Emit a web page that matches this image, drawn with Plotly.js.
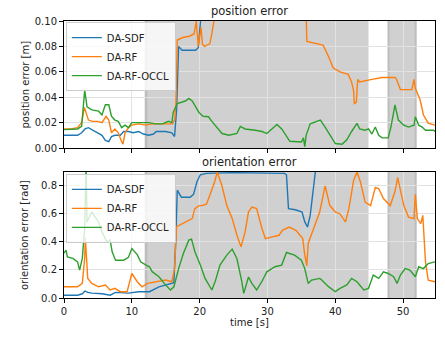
<!DOCTYPE html>
<html>
<head>
<meta charset="utf-8">
<script src="https://cdn.plot.ly/plotly-3.0.1.min.js"></script>
<style>
  html, body { margin: 0; padding: 0; background: #fff; }
  #viz { width: 445px; height: 337px; }
</style>
</head>
<body>
<div id="viz"></div>
<script>
// position error [m]
var sdfPosT = [0,1,2,2.6,3.1,3.6,4.6,5.6,6.1,6.6, 7.0,7.5,8.3,8.8,9.5,10.2,11.0,11.7,12.5,13.2, 13.6,15.0,15.9,16.3,16.6,16.9,17.4,18.5,19.4,19.8, 20.3,20.6];
var sdfPos = [0.010,0.010,0.010,0.012,0.015,0.016,0.013,0.010,0.006,0.005, 0.009,0.010,0.010,0.013,0.013,0.012,0.013,0.011,0.010,0.011, 0.013,0.013,0.012,0.009,0.03,0.08,0.077,0.077,0.077,0.079, 0.1,0.13];

var rfPosT = [0,1,2,2.6,3.0,3.2,3.6,4.2,5.0,5.6, 6.2,6.6,7.0,7.5,8.0,8.5,8.7,9.0,9.5,10, 11,12,13,14,15,16,16.3,16.5,16.7,17.5, 18.5,19.2,19.5,19.8,20.2,20.4,20.7,21.5,21.8,22.1, 22.4,35.6,35.8,36.5,37.5,38.2,39,39.7,40.7,41.9, 42.4,42.7,42.8,43.1,43.3,43.6,45.4,46.9,48.8,49.0, 49.6,51.3,51.6,51.8,52.5,53.0,53.7,54.7];
var rfPos = [0.015,0.015,0.016,0.02,0.032,0.028,0.022,0.021,0.021,0.02, 0.025,0.022,0.012,0.015,0.012,0.005,0.003,0.012,0.016,0.018, 0.019,0.018,0.019,0.019,0.019,0.019,0.022,0.035,0.085,0.087, 0.088,0.09,0.1,0.08,0.095,0.082,0.08,0.082,0.09,0.1, 0.13,0.13,0.084,0.083,0.082,0.081,0.072,0.063,0.060,0.058, 0.052,0.045,0.035,0.036,0.054,0.052,0.054,0.0555,0.0555,0.0545, 0.046,0.046,0.054,0.047,0.038,0.026,0.0196,0.018];

var occlPosT = [0,1,2,2.6,3.05,3.4,4.1,5.1,5.6,6.1, 6.6,7.0,7.5,8.0,8.5,9.0,9.5,10,11.5,12.5, 13.5,14.5,15.4,15.9,16.1,16.7,17.9,18.4,18.9,19.4, 19.9,20.5,21.3,21.8,23.3,24.3,25.5,26.0,26.7,28.2, 29.2,29.9,30.6,31.4,32.1,33.3,35.0,35.3,35.5,35.7, 36.3,37.8,38.5,39.2,40,41,41.7,42.4,43.2,43.6, 44.4,44.9,45.4,45.9,46.4,46.9,47.8,48.2,48.8,49.3, 50.1,50.8,51.6,51.8,52.3,52.8,53.3,54.5,54.7];
var occlPos = [0.0145,0.0145,0.015,0.017,0.0455,0.0325,0.030,0.029,0.026,0.034, 0.034,0.025,0.022,0.021,0.016,0.018,0.016,0.020,0.020,0.020, 0.019,0.019,0.021,0.020,0.028,0.035,0.037,0.039,0.037,0.032, 0.028,0.025,0.0246,0.021,0.0114,0.010,0.0115,0.017,0.015,0.014, 0.013,0.0114,0.015,0.0186,0.015,0.0053,0.0047,0.008,0.001,0.01, 0.019,0.022,0.0165,0.010,0.0035,0.003,0.0065,0.013,0.0194,0.015, 0.014,0.015,0.011,0.0165,0.010,0.008,0.008,0.0165,0.034,0.022, 0.018,0.0165,0.018,0.0246,0.018,0.0165,0.014,0.014,0.013];

// orientation error [rad]
var sdfOriT = [0,1,2,2.7,3.1,3.5,4.1,5.6,6.8,7.6, 9.5,11,12.6,14,15.5,16.2,16.5,16.7,17.3,18.6, 19.1,19.6,20.1,21,25,30,32.5,32.8,33.1,34.1, 35.1,35.5,35.9,36.3,36.8,37.1,37.3];
var sdfOri = [0.02,0.02,0.02,0.03,0.05,0.04,0.035,0.03,0.02,0.04, 0.035,0.045,0.045,0.08,0.10,0.11,0.44,0.77,0.72,0.72, 0.74,0.83,0.88,0.89,0.895,0.89,0.89,0.88,0.638,0.63, 0.614,0.543,0.507,0.59,0.83,0.92,1.0];

var rfOriT = [0,1,2,2.7,3.05,3.15,3.5,4.1,5.1,6.1, 6.8,7.5,8.3,9.3,10.0,10.8,11.5,12.3,13.5,15.0, 15.9,16.3,16.6,17.9,18.9,19.3,19.9,20.3,21.0,21.5, 22.2,22.6,23.3,24.0,24.8,25.5,26.1,26.7,27.2,27.7, 28.4,29.2,29.7,30.7,31.7,32.2,33.2,34.2,35.2,35.5, 35.8,36.0,36.8,37.7,38.5,39.2,40.0,40.7,41.5,42.0, 42.7,43.2,43.7,44.4,45.2,45.9,46.4,47.1,48.1,48.8, 49.2,49.6,50.1,50.8,51.6,51.8,52.1,52.6,52.9,53.3, 53.7,54.7];
var rfOri = [0.08,0.08,0.08,0.104,0.283,0.43,0.14,0.104,0.08,0.093, 0.057,0.069,0.045,0.045,0.175,0.116,0.08,0.104,0.116,0.128, 0.116,0.21,0.51,0.543,0.567,0.638,0.66,0.66,0.67,0.733, 0.828,0.9,0.8,0.66,0.567,0.448,0.365,0.472,0.614,0.65, 0.638,0.495,0.424,0.436,0.448,0.483,0.507,0.483,0.424,0.306, 0.23,0.39,0.495,0.614,0.80,0.66,0.614,0.60,0.543,0.638, 0.84,0.9,0.83,0.685,0.66,0.79,0.78,0.71,0.66,0.76, 0.86,0.76,0.66,0.578,0.567,0.74,0.567,0.531,0.59,0.258, 0.128,0.116];

var occlOriT = [0,0.3,0.5,1.3,2.0,2.3,2.7,3.05,3.25,3.4, 4.1,5.1,5.6,6.3,6.8,7.1,7.6,8.8,9.5,10.0, 10.8,11.3,12.1,12.6,13.0,14.0,15.0,15.7,16.2,16.9, 17.6,18.4,18.8,19.3,20.1,20.8,21.8,22.3,23.0,24.0, 24.8,25.5,26.2,26.5,27.2,27.7,28.4,29.2,29.9,31.1, 32.1,32.8,34.0,35.0,35.5,36.0,36.5,37.7,38.0,39.0, 40.0,40.7,41.7,42.4,43.2,44.2,44.9,45.6,46.4,47.1, 47.8,48.6,49.1,49.6,50.3,51.0,51.8,52.3,53.0,53.7, 54.7];
var occlOri = [0.32,0.342,0.294,0.283,0.258,0.199,0.283,0.495,0.95,0.543, 0.614,0.543,0.472,0.401,0.415,0.33,0.27,0.27,0.29,0.353, 0.31,0.258,0.235,0.223,0.188,0.152,0.092,0.057,0.08,0.21, 0.318,0.413,0.42,0.33,0.235,0.14,0.057,0.12,0.235,0.306, 0.349,0.28,0.12,0.033,0.15,0.104,0.057,0.12,0.187,0.223, 0.235,0.325,0.306,0.27,0.21,0.104,0.128,0.14,0.128,0.081, 0.045,0.069,0.093,0.14,0.116,0.057,0.069,0.164,0.14,0.187, 0.175,0.152,0.104,0.164,0.21,0.2,0.152,0.223,0.21,0.246, 0.258];

// shaded time spans [s]
var spans = [[12.0, 44.9], [47.8, 51.9]];
var edges = [[11.9, 12.3], [47.7, 48.0], [51.7, 52.0]];

var blue = '#1f77b4', orange = '#ff7f0e', green = '#2ca02c';

function line(x, y, name, color, xa, ya, leg) {
  return {
    x: x, y: y, name: name, mode: 'lines', type: 'scatter',
    xaxis: xa, yaxis: ya, legend: leg,
    line: { color: color, width: 1.4 }
  };
}

var data = [
  line(sdfPosT, sdfPos, 'DA-SDF', blue, 'x', 'y', 'legend'),
  line(rfPosT, rfPos, 'DA-RF', orange, 'x', 'y', 'legend'),
  line(occlPosT, occlPos, 'DA-RF-OCCL', green, 'x', 'y', 'legend'),
  line(sdfOriT, sdfOri, 'DA-SDF', blue, 'x2', 'y2', 'legend2'),
  line(rfOriT, rfOri, 'DA-RF', orange, 'x2', 'y2', 'legend2'),
  line(occlOriT, occlOri, 'DA-RF-OCCL', green, 'x2', 'y2', 'legend2')
];

var shapes = [];
['', '2'].forEach(function (s) {
  spans.forEach(function (sp) {
    shapes.push({ type: 'rect', xref: 'x' + s, yref: 'y' + s + ' domain', x0: sp[0], x1: sp[1], y0: 0, y1: 1,
      fillcolor: '#d0d0d0', line: { width: 0 }, layer: 'below' });
  });
  edges.forEach(function (sp) {
    shapes.push({ type: 'rect', xref: 'x' + s, yref: 'y' + s + ' domain', x0: sp[0], x1: sp[1], y0: 0, y1: 1,
      fillcolor: '#bdbdbd', line: { width: 0 }, layer: 'below' });
  });
});

var axisBase = {
  showline: true, mirror: true, linecolor: '#000', linewidth: 1,
  ticks: 'outside', ticklen: 4, tickcolor: '#000',
  showgrid: true, gridcolor: '#e2e2e2', gridwidth: 1, zeroline: false
};
function ax(extra) { return Object.assign({}, axisBase, extra); }

var legendBase = {
  x: 0.005, xanchor: 'left', yanchor: 'top',
  bgcolor: 'rgba(255,255,255,0.8)', bordercolor: '#ccc', borderwidth: 1,
  font: { size: 10, color: '#222' }, itemwidth: 30
};

var layout = {
  width: 445, height: 337,
  margin: { l: 64, r: 10, t: 21, b: 39 },
  paper_bgcolor: '#fff', plot_bgcolor: '#fff',
  font: { family: 'DejaVu Sans', size: 10, color: '#222' },
  showlegend: true,
  xaxis: ax({ domain: [0, 1], range: [0, 54.7], dtick: 10, anchor: 'y', showticklabels: false }),
  yaxis: ax({ domain: [0.5415, 1], range: [0, 0.1], dtick: 0.02, tickformat: '.2f', anchor: 'x' }),
  xaxis2: ax({ domain: [0, 1], range: [0, 54.7], dtick: 10, anchor: 'y2',
    title: { text: 'time [s]', font: { size: 10 }, standoff: 2 } }),
  yaxis2: ax({ domain: [0, 0.455], range: [0, 0.9], dtick: 0.2, tickformat: '.1f', anchor: 'x2' }),
  legend: Object.assign({}, legendBase, { y: 0.996 }),
  legend2: Object.assign({}, legendBase, { y: 0.448 }),
  shapes: shapes,
  annotations: [
    { text: 'position error', xref: 'paper', yref: 'paper', x: 0.5, y: 1, yanchor: 'bottom',
      showarrow: false, font: { size: 11.5 }, yshift: 1 },
    { text: 'orientation error', xref: 'paper', yref: 'paper', x: 0.5, y: 0.455, yanchor: 'bottom',
      showarrow: false, font: { size: 11.5 }, yshift: 1 },
    { text: 'position error [m]', xref: 'paper', yref: 'paper', x: -0.105, y: 0.7707,
      xanchor: 'center', yanchor: 'middle', textangle: -90, showarrow: false, font: { size: 10 } },
    { text: 'orientation error [rad]', xref: 'paper', yref: 'paper', x: -0.105, y: 0.2275,
      xanchor: 'center', yanchor: 'middle', textangle: -90, showarrow: false, font: { size: 10 } }
  ]
};

Plotly.newPlot('viz', data, layout, { displayModeBar: false, staticPlot: true });
</script>
</body>
</html>
